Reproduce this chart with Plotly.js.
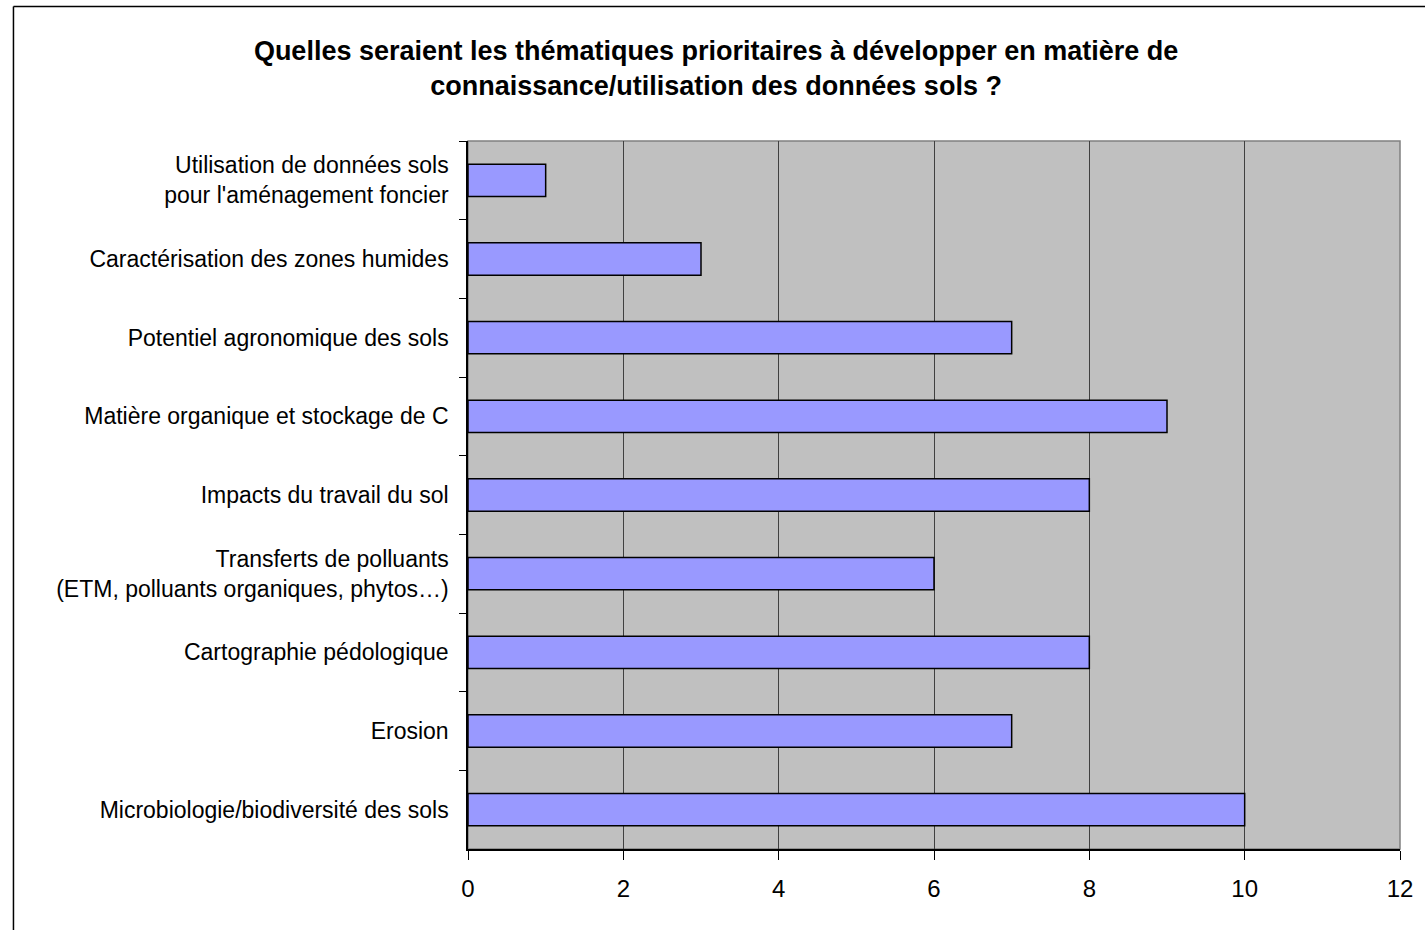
<!DOCTYPE html>
<html>
<head>
<meta charset="utf-8">
<script src="https://cdn.plot.ly/plotly-3.0.1.min.js"></script>
<style>
html,body{margin:0;padding:0;background:#fff;}
#chart{width:1425px;height:930px;}
</style>
</head>
<body>
<div id="chart"></div>
<script>
var categories = [
  "Utilisation de données sols<br>pour l'aménagement foncier",
  "Caractérisation des zones humides",
  "Potentiel agronomique des sols",
  "Matière organique et stockage de C",
  "Impacts du travail du sol",
  "Transferts de polluants<br>(ETM, polluants organiques, phytos…)",
  "Cartographie pédologique",
  "Erosion",
  "Microbiologie/biodiversité des sols"
];
var values = [1, 3, 7, 9, 8, 6, 8, 7, 10];
var xTicks = [0, 2, 4, 6, 8, 10, 12];
var titleText = "Quelles seraient les thématiques prioritaires à développer en matière de<br>connaissance/utilisation des données sols ?";

var trace = {
  type: 'bar',
  orientation: 'h',
  x: values,
  y: categories,
  marker: {color: '#9999FF', line: {color: '#000000', width: 1.5}},
  hoverinfo: 'x+y'
};

var FONT = 'Liberation Sans, Arial, sans-serif';

var layout = {
  width: 1425,
  height: 930,
  margin: {l: 468, r: 25, t: 141, b: 81, pad: 0},
  paper_bgcolor: '#ffffff',
  plot_bgcolor: '#C0C0C0',
  showlegend: false,
  bargap: 0.59,
  font: {family: FONT, color: '#000000'},
  title: {
    text: titleText,
    font: {family: FONT, size: 27, color: '#000000', weight: 'bold'},
    x: 0.5025, xref: 'container', xanchor: 'center',
    y: 0.9355, yref: 'container', yanchor: 'middle'
  },
  xaxis: {
    range: [0, 12],
    tickvals: xTicks,
    ticktext: xTicks.map(String),
    showgrid: true,
    gridcolor: '#404040',
    gridwidth: 1,
    zeroline: false,
    showline: true,
    linecolor: '#000000',
    linewidth: 1.5,
    ticks: 'outside',
    ticklen: 9,
    tickwidth: 1,
    tickcolor: '#000000',
    ticklabelstandoff: 8,
    tickfont: {family: FONT, size: 24, color: '#000000'},
    fixedrange: true
  },
  yaxis: {
    type: 'category',
    autorange: 'reversed',
    tickson: 'boundaries',
    showgrid: false,
    zeroline: false,
    showline: true,
    linecolor: '#000000',
    linewidth: 1.5,
    ticks: 'outside',
    ticklen: 7,
    tickwidth: 1,
    tickcolor: '#000000',
    ticklabelstandoff: 13,
    tickfont: {family: FONT, size: 23, color: '#000000'},
    fixedrange: true
  },
  shapes: [
    {type: 'rect', xref: 'paper', yref: 'paper', x0: 0, x1: 1, y0: 0, y1: 1,
     line: {color: '#808080', width: 1.5}, fillcolor: 'rgba(0,0,0,0)', layer: 'below'},
    {type: 'line', xref: 'paper', yref: 'paper', x0: -0.4877, x1: -0.4877, y0: 1.19, y1: -0.2,
     line: {color: '#000000', width: 1.5}},
    {type: 'line', xref: 'paper', yref: 'paper', x0: -0.4877, x1: 1.1, y0: 1.19, y1: 1.19,
     line: {color: '#000000', width: 1.5}}
  ]
};

Plotly.newPlot('chart', [trace], layout, {displayModeBar: false});
</script>
</body>
</html>
